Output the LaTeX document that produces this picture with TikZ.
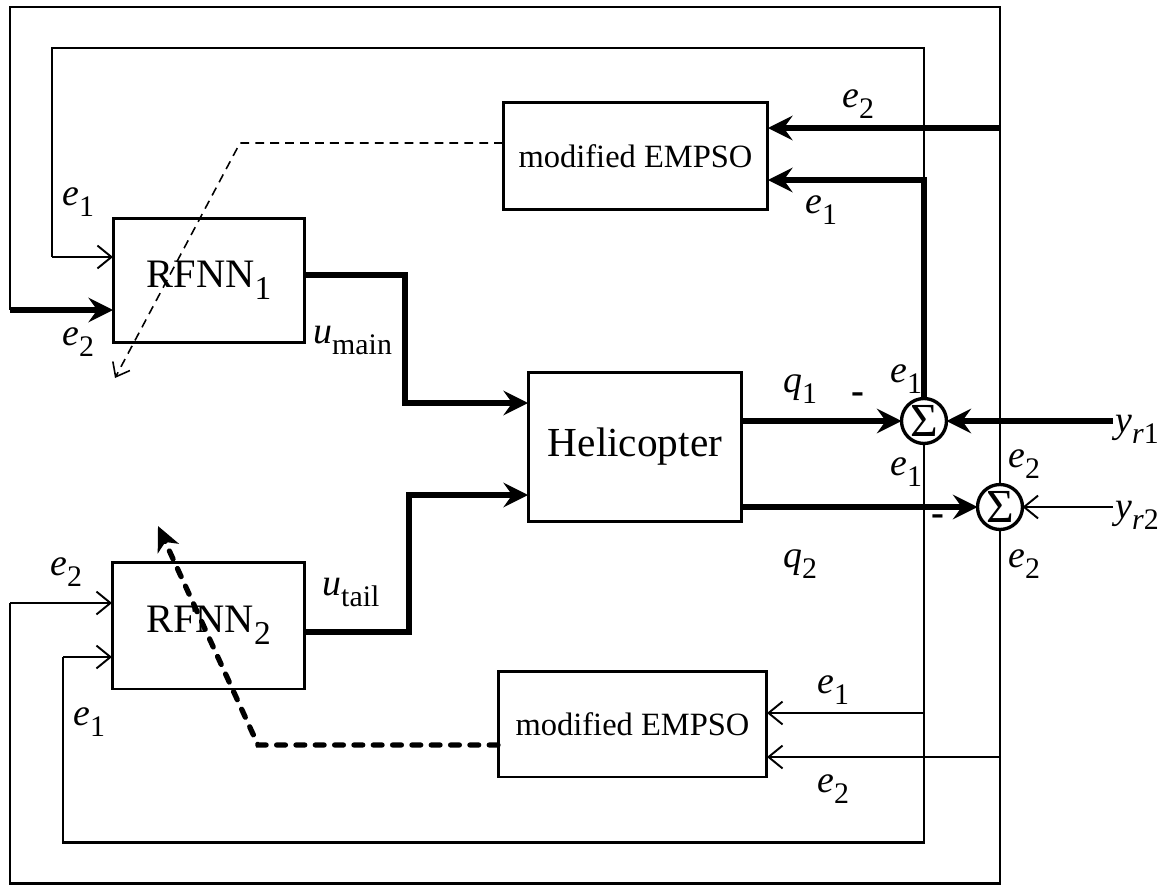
\documentclass[tikz,border=0pt]{standalone}
\usepackage{fontspec}
\setmainfont{Liberation Serif}
\usetikzlibrary{arrows.meta}
\newcommand\lab[2]{{\fontsize{21.5}{21.5}\selectfont\itshape #1}\raisebox{-6.5pt}{\fontsize{17}{17}\selectfont #2}}
\tikzset{
 box/.style={draw, line width=1.7pt, inner sep=0pt, outer sep=0pt},
 sumn/.style={draw, circle, line width=1.9pt, minimum size=0.9cm, inner sep=0pt, outer sep=0pt, font=\fontsize{27}{27}\selectfont},
 ln/.style={line width=1.7pt},
 thk/.style={line width=3.4pt},
 thn/.style={line width=1.1pt},
 bigtip/.style={-{Stealth[length=14pt,width=14pt,inset=5pt]}},
 smalltip/.style={-{Straight Barb[length=8pt,width=13pt]}},
 lbl/.style={anchor=base west, inner sep=0pt},
 minus/.style={inner sep=0pt, font=\fontsize{22}{22}\selectfont\bfseries},
}
\begin{document}
\begin{tikzpicture}[x=0.02cm,y=-0.02cm]
\useasboundingbox (0,0) rectangle (1171,886);
% blocks
\node[box, minimum width=3.84cm, minimum height=2.5cm, font=\fontsize{23}{23}\selectfont] (R1) at (209,280.5) {RFNN\raisebox{-7pt}{\fontsize{19}{19}\selectfont 1}};
\node[box, minimum width=3.86cm, minimum height=2.54cm, font=\fontsize{23}{23}\selectfont] (R2) at (208.5,625.5) {RFNN\raisebox{-7pt}{\fontsize{19}{19}\selectfont 2}};
\node[box, minimum width=4.28cm, minimum height=3.0cm, font=\fontsize{23.5}{23.5}\selectfont] (H) at (635,447) {Helicopter};
\node[box, minimum width=5.3cm, minimum height=2.16cm, font=\fontsize{18.5}{18.5}\selectfont] (E1) at (635.5,156) {modified EMPSO};
\node[box, minimum width=5.38cm, minimum height=2.12cm, font=\fontsize{18.5}{18.5}\selectfont] (E2) at (632.5,724) {modified EMPSO};
\node[sumn] (S1) at (924,421) {\raisebox{-1pt}{Σ}};
\node[sumn] (S2) at (1000,507) {\raisebox{-1pt}{Σ}};
% coordinates
\coordinate (iT) at (52,48);
\coordinate (iL) at (52,257);
\coordinate (e1y) at (0,180);
\coordinate (oT) at (10,7);
\coordinate (oL) at (10,310);
\coordinate (e2y) at (0,128);
\coordinate (iB) at (63,842);
\coordinate (iL2) at (63,657);
\coordinate (e1b) at (0,713);
\coordinate (oB) at (10,883);
\coordinate (oL2) at (10,603);
\coordinate (e2b) at (0,757);
\coordinate (um1) at (405,275);
\coordinate (um2) at (405,403);
\coordinate (ut1) at (409,632);
\coordinate (ut2) at (409,495);
\coordinate (yr1) at (1113,421);
\coordinate (yr2) at (1113,507);
\coordinate (d1) at (240,143);
\coordinate (d1end) at (115,378);
\coordinate (d2) at (258,745);
\coordinate (d2end) at (158,526);
% e1 upper loop
\draw[ln] (S1.north) -- (S1 |- iT) -- (iT) -- (iL);
\draw[thn,smalltip] (iL) -- (R1.west |- iL);
\draw[thk,bigtip] (S1.north) -- (S1 |- e1y) -- (E1.east |- e1y);
% e2 upper loop
\draw[ln] (S2.north) -- (S2 |- oT) -- (oT) -- (oL);
\draw[thk,bigtip] (oL) -- (R1.west |- oL);
\draw[thk,bigtip] (S2 |- e2y) -- (E1.east |- e2y);
% e1 lower loop
\draw[ln] (S1.south) -- (S1 |- iB) -- (iB) -- (iL2);
\draw[thn,smalltip] (iL2) -- (R2.west |- iL2);
\draw[thn,smalltip] (S1 |- e1b) -- (E2.east |- e1b);
% e2 lower loop
\draw[ln] (S2.south) -- (S2 |- oB) -- (oB) -- (oL2);
\draw[thn,smalltip] (oL2) -- (R2.west |- oL2);
\draw[thn,smalltip] (S2 |- e2b) -- (E2.east |- e2b);
% controls
\draw[thk,bigtip] (R1.east |- um1) -- (um1) -- (um2) -- (H.west |- um2);
\draw[thk,bigtip] (R2.east |- ut1) -- (ut1) -- (ut2) -- (H.west |- ut2);
% outputs
\draw[thk,bigtip] (H.east |- S1) -- (S1.west);
\draw[thk,bigtip] (H.east |- S2) -- (S2.west);
\draw[thk,bigtip] (yr1) -- (S1.east);
\draw[thn,smalltip] (yr2) -- (S2.east);
% dashed tuning arrows
\draw[line width=0.9pt, dash pattern=on 5pt off 3.5pt, -{Straight Barb[length=7pt,width=11pt]}] (E1.west |- d1) -- (d1) -- (d1end);
\draw[line width=3pt, dash pattern=on 5pt off 6pt, line cap=round, -{Stealth[length=14pt,width=13pt,inset=4pt]}] (E2.west |- d2) -- (d2) -- (d2end);
% labels
\node[lbl] (la1) at (62,205) {\lab{e}{1}};
\node[lbl] (la2) at (62,345) {\lab{e}{2}};
\node[lbl] (la3) at (313,343) {\lab{u}{main}};
\node[lbl] (la4) at (842,107) {\lab{e}{2}};
\node[lbl] (la5) at (805,213) {\lab{e}{1}};
\node[lbl] (la6) at (890,382) {\lab{e}{1}};
\node[lbl] (la7) at (783,392) {\lab{q}{1}};
\node[minus] (m1) at (858,398) {-};
\node[lbl] (la8) at (890,475) {\lab{e}{1}};
\node[lbl] (la9) at (1008,467) {\lab{e}{2}};
\node[lbl] (la10) at (1008,567) {\lab{e}{2}};
\node[minus] (m2) at (938,520) {-};
\node[lbl] (la11) at (783,567) {\lab{q}{2}};
\node[lbl] (la12) at (1115,432) {\lab{y}{\textit{r}1}};
\node[lbl] (la13) at (1115,518) {\lab{y}{\textit{r}2}};
\node[lbl] (la14) at (50,575) {\lab{e}{2}};
\node[lbl] (la15) at (73,725) {\lab{e}{1}};
\node[lbl] (la16) at (322,595) {\lab{u}{tail}};
\node[lbl] (la17) at (817,693) {\lab{e}{1}};
\node[lbl] (la18) at (817,792) {\lab{e}{2}};
\end{tikzpicture}
\end{document}
